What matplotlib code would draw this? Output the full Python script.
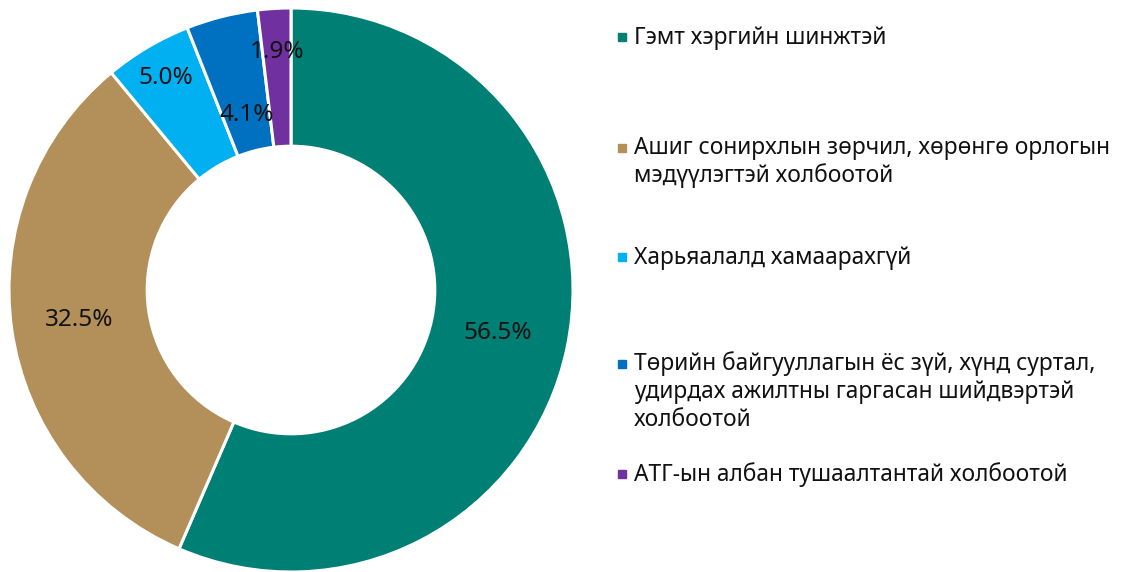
import matplotlib
matplotlib.use("Agg")
import matplotlib.pyplot as plt
from matplotlib.lines import Line2D

plt.rcParams['font.family'] = ['Noto Sans', 'DejaVu Sans']

categories = [
    "Гэмт хэргийн шинжтэй",
    "Ашиг сонирхлын зөрчил, хөрөнгө орлогын\nмэдүүлэгтэй холбоотой",
    "Харьяалалд хамаарахгүй",
    "Төрийн байгууллагын ёс зүй, хүнд суртал,\nудирдах ажилтны гаргасан шийдвэртэй\nхолбоотой",
    "АТГ-ын албан тушаалтантай холбоотой",
]
shares = [56.5, 32.5, 5.0, 4.1, 1.9]
colors = ["#007F74", "#B38F5A", "#00B0F0", "#0070C0", "#7030A0"]

# label distance from center (fraction of radius), tuned per slice
label_r = [0.75, 0.76, 0.875, 0.64, 0.845]
# legend first-line baselines in pixels from top
legend_y = [44, 155, 264, 371, 481]
line_px = 27.3

W, H = 1121, 572
fig = plt.figure(figsize=(W / 100, H / 100), dpi=100)
ax = fig.add_axes([9 / W, 0, 564 / W, 564 / H])

wedges, texts, autotexts = ax.pie(
    shares, colors=colors, startangle=90, counterclock=False,
    autopct="%1.1f%%", pctdistance=0.75,
    wedgeprops=dict(width=0.49, edgecolor="white", linewidth=2.2),
    textprops=dict(fontsize=17.5, color="#111111"),
)
ax.set_xlim(-1, 1)
ax.set_ylim(-1, 1)
ax.set_aspect("equal")

for t, r in zip(autotexts, label_r):
    x, y = t.get_position()
    t.set_position((x * r / 0.75, y * r / 0.75))

# legend drawn by hand so markers sit on the first line
for lab, col, yb in zip(categories, colors, legend_y):
    nlines = lab.count("\n") + 1
    last_base = yb + (nlines - 1) * line_px
    fig.text(634 / W, 1 - last_base / H, lab, fontsize=16.4, color="#111111",
             va="baseline", ha="left", linespacing=1.2)
    fig.add_artist(Line2D([621.5 / W], [1 - (yb - 7) / H], marker="s",
                          markersize=5.8, color=col, linestyle="none",
                          transform=fig.transFigure))

fig.savefig("out.png", dpi=100)
